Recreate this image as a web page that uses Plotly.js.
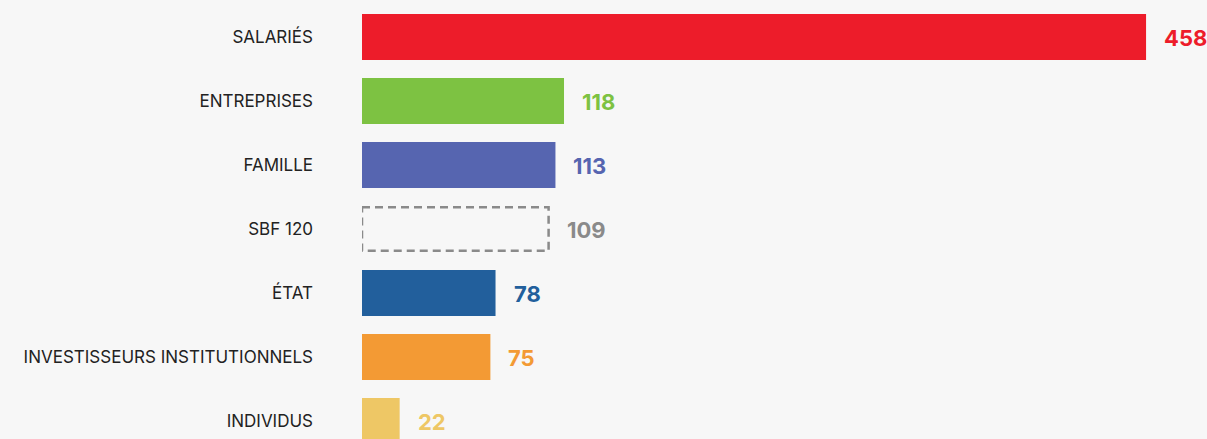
<!DOCTYPE html>
<html>
<head>
<meta charset="utf-8">
<script src="https://cdn.plot.ly/plotly-3.0.1.min.js"></script>
<style>
html,body{margin:0;padding:0;background:#f7f7f7;}
#chart{width:1207px;height:439px;}
</style>
</head>
<body>
<div id="chart"></div>
<script>
const categories = ["SALARIÉS","ENTREPRISES","FAMILLE","SBF 120","ÉTAT","INVESTISSEURS INSTITUTIONNELS","INDIVIDUS"];
const values = [458, 118, 113, 109, 78, 75, 22];
const colors = ["#ED1C2A","#7DC242","#5665B0","rgba(0,0,0,0)","#225F9C","#F39A34","#EEC765"];
const labelColors = ["#ED1C2A","#7DC242","#5665B0","#8A8A8A","#225F9C","#F39A34","#EEC765"];
const dashedIndex = 3;

const trace = {
  type: "bar",
  orientation: "h",
  y: categories,
  x: values,
  marker: {color: colors, line: {width: 0}},
  hoverinfo: "skip",
  showlegend: false
};

const annotations = values.map((v, i) => ({
  x: v, y: categories[i], xref: "x", yref: "y",
  text: String(v), showarrow: false, xanchor: "left", yanchor: "middle",
  xshift: 16, yshift: -1,
  font: {family: "Inter, 'Open Sans', sans-serif", size: 22, color: labelColors[i], weight: 700}
}));

const shapes = [{
  type: "rect", xref: "x", yref: "y",
  x0: 0, x1: values[dashedIndex],
  y0: dashedIndex - 0.34, y1: dashedIndex + 0.34,
  line: {color: "#8A8A8A", width: 2.5, dash: "8px,5px"},
  fillcolor: "rgba(0,0,0,0)"
}];

const layout = {
  width: 1207, height: 439,
  paper_bgcolor: "#f7f7f7", plot_bgcolor: "#f7f7f7",
  margin: {l: 362, r: 0, t: 0, b: 0, pad: 0},
  bargap: 0.28,
  xaxis: {range: [0, 493.6], showgrid: false, zeroline: false, showticklabels: false, showline: false, ticks: ""},
  yaxis: {
    type: "category",
    range: [6.28, -0.578],
    showgrid: false, zeroline: false, showline: false, ticks: "",
    ticklabelstandoff: 48,
    tickfont: {family: "Inter, 'Open Sans', sans-serif", size: 17, color: "#222222"}
  },
  annotations: annotations,
  shapes: shapes,
  font: {family: "Inter, sans-serif"}
};

Plotly.newPlot("chart", [trace], layout, {displayModeBar: false, staticPlot: true});
</script>
</body>
</html>
